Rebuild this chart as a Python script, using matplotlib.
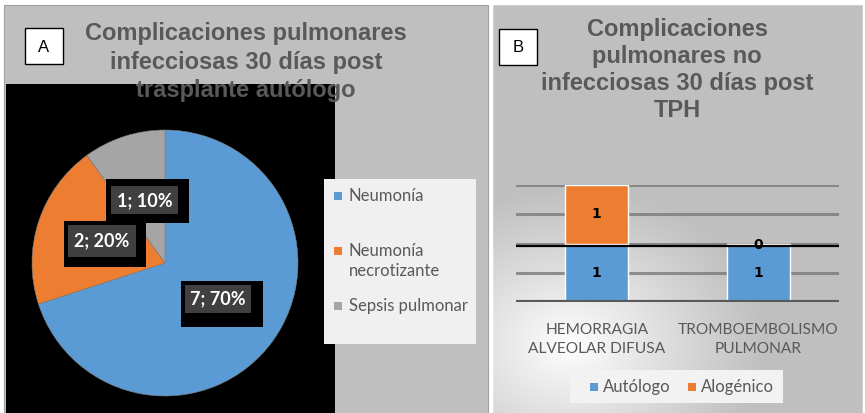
import numpy as np
import matplotlib
matplotlib.use("Agg")
import matplotlib.pyplot as plt
from matplotlib.patches import Rectangle

# ---------------- data ----------------
pie_labels = ["Neumonía", "Neumonía\nnecrotizante", "Sepsis pulmonar"]
pie_values = [7, 2, 1]
pie_texts = ["7; 70%", "2; 20%", "1; 10%"]
pie_colors = ["#5b9bd5", "#ed7d31", "#a5a5a5"]

bar_categories = ["HEMORRAGIA\nALVEOLAR DIFUSA", "TROMBOEMBOLISMO\nPULMONAR"]
series_names = ["Autólogo", "Alogénico"]
autologo = [1, 1]
alogenico = [1, 0]
bar_colors = ["#5b9bd5", "#ed7d31"]

title_a = "Complicaciones pulmonares\ninfecciosas 30 días post\ntrasplante autólogo"
title_b = "Complicaciones\npulmonares no\ninfecciosas 30 días post\nTPH"

W, H = 865, 413
fig = plt.figure(figsize=(W / 100, H / 100), dpi=100)
fig.patch.set_facecolor("white")

def fax(x0, y0, x1, y1):
    """pixel box (top-left origin) -> figure fraction rect"""
    return [x0 / W, (H - y1) / H, (x1 - x0) / W, (y1 - y0) / H]

# background axes in pixel coordinates
bg = fig.add_axes([0, 0, 1, 1], zorder=0)
bg.set_xlim(0, W)
bg.set_ylim(H, 0)
bg.axis("off")

GRAY = "#bfbfbf"
bg.add_patch(Rectangle((4, 5), 484, 410, facecolor=GRAY, edgecolor="#a0a0a0", lw=0.8))
bg.add_patch(Rectangle((493, 5), 369, 410, facecolor=GRAY, edgecolor="#d0d0d0", lw=0.8))
bg.add_patch(Rectangle((6, 84), 329, 335, facecolor="black", edgecolor="none"))

# soft white glow in panel B
nx, ny = 369, 408
xs = np.linspace(493, 862, nx)
ys = np.linspace(5, 413, ny)
X, Y = np.meshgrid(xs, ys)
d = np.sqrt(((X - 570) / 200.0) ** 2 + ((Y - 345) / 160.0) ** 2)
alpha = np.clip(1 - d, 0, 1) ** 1.1
img = np.ones((ny, nx, 4))
img[..., 3] = alpha
bg.imshow(img, extent=(493, 862, 413, 5), zorder=1, interpolation="bilinear", aspect="auto")

# ---------------- pie ----------------
cx, cy, r = 165, 263, 133
pax = fig.add_axes(fax(cx - r, cy - r, cx + r, cy + r), zorder=1)
pax.pie(pie_values, colors=pie_colors, startangle=90, counterclock=False,
        wedgeprops=dict(edgecolor="#7f7f7f", linewidth=0.4))
pax.set_xlim(-1, 1)
pax.set_ylim(-1, 1)
pax.set_aspect("auto")
pax.axis("off")

# ---------------- bars ----------------
bax = fig.add_axes(fax(516, 185, 839, 302), zorder=1)
bax.patch.set_alpha(0)
x = np.arange(len(bar_categories))
bw = 0.39
for gy in [0.5, 1.0, 1.5, 2.0]:
    bax.axhline(gy, color="#7a7a7a", lw=2.2, alpha=0.8, zorder=0)
b1 = bax.bar(x, autologo, bw, color=bar_colors[0], edgecolor="white", lw=1, zorder=2)
b2 = bax.bar(x, alogenico, bw, bottom=autologo, color=bar_colors[1], edgecolor="white", lw=1, zorder=2)
bax.axhline(0, color="#595959", lw=3, zorder=3)
bax.axhline(0.96, color="black", lw=1.6, zorder=4)
for i in range(len(x)):
    bax.text(x[i], autologo[i] / 2, str(autologo[i]), ha="center", va="center",
             fontsize=10, fontweight="bold", color="black", zorder=5)
    ya = autologo[i] + alogenico[i] / 2 if alogenico[i] else autologo[i] - 0.03
    bax.text(x[i], ya, str(alogenico[i]), ha="center", va="center",
             fontsize=10, fontweight="bold", color="black", zorder=5)
bax.set_xlim(-0.5, 1.5)
bax.set_ylim(0, 2)
bax.set_yticks([])
bax.set_xticks(x)
bax.set_xticklabels(bar_categories, fontsize=11.2, color="#595959", family="Lato",
                    linespacing=1.45)
bax.tick_params(axis="x", length=0, pad=15)
for s in bax.spines.values():
    s.set_visible(False)

# ---------------- overlay ----------------
ov = fig.add_axes([0, 0, 1, 1], zorder=5)
ov.set_xlim(0, W)
ov.set_ylim(H, 0)
ov.axis("off")
ov.patch.set_alpha(0)

TCOL = "#595959"
ov.text(246, 62, title_a, ha="center", va="center", fontsize=17, fontweight="bold",
        color=TCOL, family="Liberation Sans", linespacing=1.32)
ov.text(677, 70, title_b, ha="center", va="center", fontsize=17, fontweight="bold",
        color=TCOL, family="Liberation Sans", linespacing=1.22)

# panel letters
for (x0, y0, lab) in [(25, 28, "A"), (499, 29, "B")]:
    ov.add_patch(Rectangle((x0, y0), 38, 36, facecolor="white", edgecolor="black", lw=1))
    ov.text(x0 + 19, y0 + 19, lab, ha="center", va="center", fontsize=12,
            family="Liberation Sans", color="black")

# pie data labels
lab_pos = [(218, 299), (102, 241), (145, 201)]
outer = [(181, 281, 263, 327), (64, 221, 146, 267), (106, 179, 189, 223)]
inner = [(185, 285, 251, 313), (68, 225, 136, 257), (111, 186, 178, 214)]
for t, (tx, ty), o, n in zip(pie_texts, lab_pos, outer, inner):
    ov.add_patch(Rectangle((o[0], o[1]), o[2] - o[0], o[3] - o[1], facecolor="black", edgecolor="none"))
    ov.add_patch(Rectangle((n[0], n[1]), n[2] - n[0], n[3] - n[1], facecolor="#404040", edgecolor="none"))
    ov.text(tx, ty, t, ha="center", va="center", fontsize=13, fontweight="bold",
            color="white", family="Lato")

# legend A (manual)
ov.add_patch(Rectangle((324, 179), 152, 165, facecolor="#f0f0f0", edgecolor="none"))
leg_y = [196, 261, 306]
for lab, col, ly in zip(pie_labels, pie_colors, leg_y):
    first_y = ly if "\n" not in lab else ly - 10
    ov.add_patch(Rectangle((334, first_y - 4), 8, 8, facecolor=col, edgecolor="none"))
    ov.text(349, ly, lab, ha="left", va="center", fontsize=12, color=TCOL,
            family="Lato", linespacing=1.25)

# legend B (manual)
ov.add_patch(Rectangle((570, 370), 213, 33, facecolor="#f2f2f2", edgecolor="none"))
for lab, col, lx in zip(series_names, bar_colors, [590, 688]):
    ov.add_patch(Rectangle((lx, 383), 8, 8, facecolor=col, edgecolor="none"))
    ov.text(lx + 13, 387, lab, ha="left", va="center", fontsize=12, color=TCOL, family="Lato")

fig.savefig("out.png", dpi=100, facecolor="white")
